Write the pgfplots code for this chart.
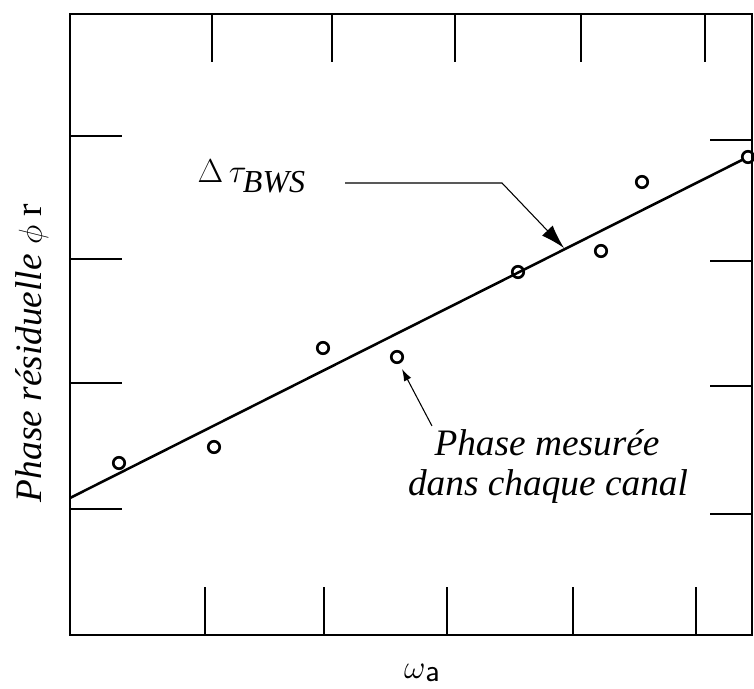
\documentclass[border=0pt]{standalone}
\usepackage{fontspec}
\setmainfont{Liberation Serif}
\usepackage{pgfplots}
\pgfplotsset{compat=1.18}
\usetikzlibrary{arrows.meta}

% axis coordinates are the reference's pixels (y measured upwards)
\pgfplotsset{
  frame/.style={
    x=0.75pt, y=0.75pt,
    xmin=70, xmax=752, ymin=54, ymax=675,
    scale only axis, at={(0,0)}, anchor=south west,
    axis line style={line width=1.4pt},
    tick align=inside,
    tick style={line width=0.9pt, black},
    xticklabels={}, yticklabels={},
  },
}

\begin{document}
\begin{tikzpicture}
\useasboundingbox (-52.5pt,-40.5pt) rectangle (513pt,476.25pt);

% bottom ticks, data and annotations
\begin{axis}[frame, clip=false,
  xtick={205,324,447,573,696}, xtick pos=bottom, ytick=\empty,
  major tick length=36pt]
\addplot[black, line width=1.9pt] coordinates {(70,191) (742,529)};
\addplot[only marks, black, mark=o, mark size=4.3pt,
  mark options={solid, line width=2pt, fill=white}] coordinates {
  (119,226) (214,242) (323,341) (397,332)
  (518,417) (601,438) (642,507) (748,532)
};
\node[anchor=base west, font=\fontsize{24}{28}\selectfont]
  at (axis cs:193,506) {$\Delta\,\tau_{\textit{BWS}}$};
\draw[line width=0.8pt, -{Latex[length=18pt,width=11pt]}]
  (axis cs:345,506) -- (axis cs:502,506) -- (axis cs:564,441);
\node[anchor=base, font=\itshape\fontsize{28}{32}\selectfont]
  at (axis cs:547,233) {Phase mesurée};
\node[anchor=base, font=\itshape\fontsize{28}{32}\selectfont]
  at (axis cs:548,193) {dans chaque canal};
\draw[line width=0.8pt, -{Latex[length=9pt,width=6pt]}]
  (axis cs:432,263) -- (axis cs:402,320);
\node[anchor=base, rotate=90, font=\itshape\fontsize{28}{32}\selectfont]
  at (axis cs:42,336) {Phase résiduelle {\fontsize{32}{36}\selectfont$\phi$} \upshape r};
\node[anchor=base, font=\fontsize{34}{38}\selectfont]
  at (axis cs:422,11) {$\omega$\raisebox{-3pt}{\fontsize{24}{28}\selectfont\sffamily a}};
\end{axis}

% top ticks
\begin{axis}[frame,
  xtick={212,332,455,581,705}, xtick pos=top, ytick=\empty,
  major tick length=36pt]
\end{axis}

% left ticks
\begin{axis}[frame,
  ytick={180,306,430,553}, ytick pos=left, xtick=\empty,
  major tick length=39pt]
\end{axis}

% right ticks
\begin{axis}[frame,
  ytick={175,303,428,549}, ytick pos=right, xtick=\empty,
  major tick length=31.5pt]
\end{axis}
\end{tikzpicture}
\end{document}
